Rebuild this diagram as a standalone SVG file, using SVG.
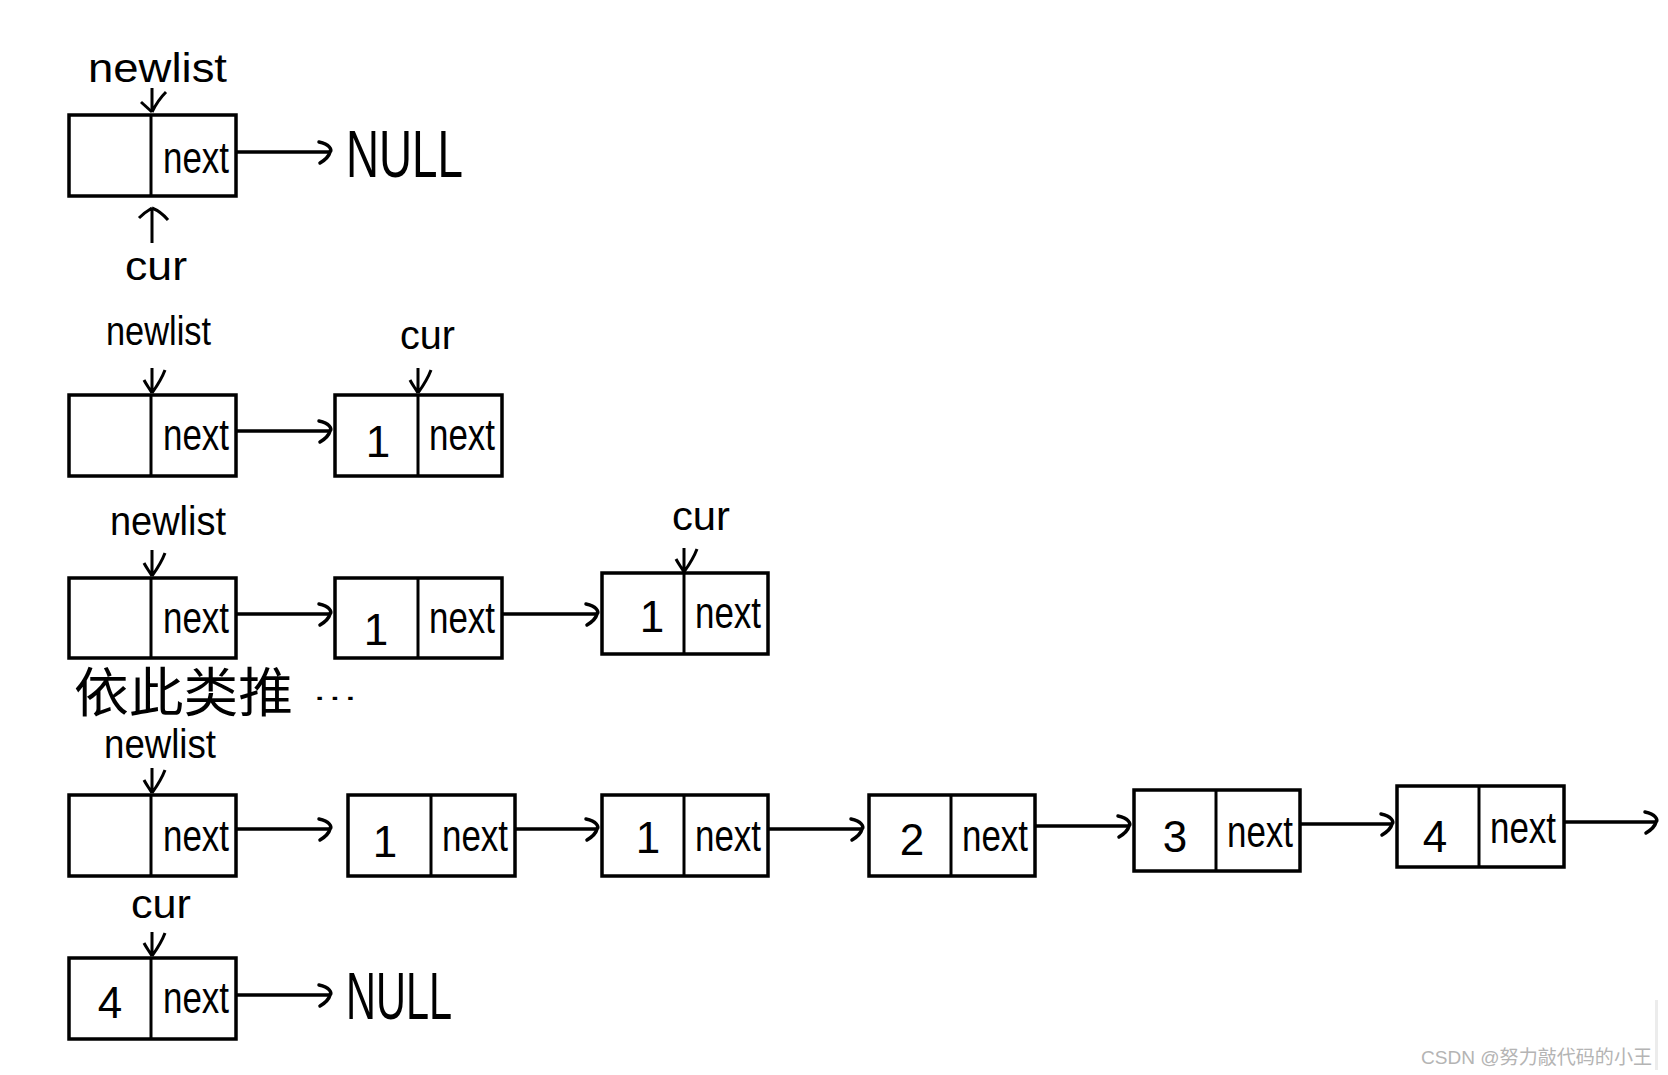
<svg xmlns="http://www.w3.org/2000/svg" width="1668" height="1075" viewBox="0 0 1668 1075">
<style>
.box{fill:#fff;stroke:#000;stroke-width:3.5}
.div{stroke:#000;stroke-width:3}
.hw{font-family:"Liberation Sans","Noto Sans CJK SC",sans-serif;fill:#000}
.nx{font-size:44px}
.lbl{font-size:40px}
.num{font-size:44px}
.null{font-size:66px}
.con{stroke:#000;stroke-width:3.5;fill:none}
.ptr{stroke:#000;stroke-width:3;fill:none}
.wm{font-family:"Liberation Sans","Noto Sans CJK SC",sans-serif;font-size:19px;fill:#b4b4b4}
</style>
<defs>
<marker id="ah" markerUnits="userSpaceOnUse" markerWidth="24" markerHeight="26" refX="14" refY="13" orient="auto" overflow="visible">
<path d="M3,3 C14,5 16,11 14,13 C13,17 9,21 4,24" fill="none" stroke="#000" stroke-width="3.5" stroke-linecap="round"/>
</marker>
</defs>

<!-- Row 1 -->
<g id="r1-head">
<rect class="box" x="69" y="115" width="167" height="81"/>
<line class="div" x1="151" y1="115" x2="151" y2="196"/>
<text class="hw nx" x="163" y="173" textLength="66" lengthAdjust="spacingAndGlyphs">next</text>
</g>
<g id="r1-null"><text class="hw null" x="346" y="177" textLength="117" lengthAdjust="spacingAndGlyphs">NULL</text></g>
<g id="r1-newlist"><text class="hw lbl" x="88" y="82" font-size="52" textLength="139" lengthAdjust="spacingAndGlyphs">newlist</text></g>
<g id="r1-cur"><text class="hw lbl" x="125" y="280" textLength="62" lengthAdjust="spacingAndGlyphs">cur</text></g>

<!-- Row 2 -->
<g id="r2-head">
<rect class="box" x="69" y="395" width="167" height="81"/>
<line class="div" x1="151" y1="395" x2="151" y2="476"/>
<text class="hw nx" x="163" y="450" textLength="66" lengthAdjust="spacingAndGlyphs">next</text>
</g>
<g id="r2-n1">
<rect class="box" x="335" y="395" width="167" height="81"/>
<line class="div" x1="418" y1="395" x2="418" y2="476"/>
<text class="hw num" x="378" y="457" text-anchor="middle">1</text>
<text class="hw nx" x="429" y="450" textLength="66" lengthAdjust="spacingAndGlyphs">next</text>
</g>
<g id="r2-newlist"><text class="hw lbl" x="106" y="345" textLength="105" lengthAdjust="spacingAndGlyphs">newlist</text></g>
<g id="r2-cur"><text class="hw lbl" x="400" y="349" textLength="55" lengthAdjust="spacingAndGlyphs">cur</text></g>

<!-- Row 3 -->
<g id="r3-head">
<rect class="box" x="69" y="578" width="167" height="80"/>
<line class="div" x1="151" y1="578" x2="151" y2="658"/>
<text class="hw nx" x="163" y="633" textLength="66" lengthAdjust="spacingAndGlyphs">next</text>
</g>
<g id="r3-n1">
<rect class="box" x="335" y="578" width="167" height="80"/>
<line class="div" x1="418" y1="578" x2="418" y2="658"/>
<text class="hw num" x="376" y="645" text-anchor="middle">1</text>
<text class="hw nx" x="429" y="633" textLength="66" lengthAdjust="spacingAndGlyphs">next</text>
</g>
<g id="r3-n2">
<rect class="box" x="602" y="573" width="166" height="81"/>
<line class="div" x1="684" y1="573" x2="684" y2="654"/>
<text class="hw num" x="652" y="632" text-anchor="middle">1</text>
<text class="hw nx" x="695" y="628" textLength="66" lengthAdjust="spacingAndGlyphs">next</text>
</g>
<g id="r3-newlist"><text class="hw lbl" x="110" y="535" textLength="116" lengthAdjust="spacingAndGlyphs">newlist</text></g>
<g id="r3-cur"><text class="hw lbl" x="672" y="530" textLength="58" lengthAdjust="spacingAndGlyphs">cur</text></g>

<g id="note">
<text class="hw" x="74" y="712" font-size="53" textLength="219" lengthAdjust="spacingAndGlyphs">依此类推</text>
<text class="hw" x="312" y="706" font-size="30" textLength="46" lengthAdjust="spacingAndGlyphs">···</text>
</g>

<!-- Row 4 -->
<g id="r4-head">
<rect class="box" x="69" y="795" width="167" height="81"/>
<line class="div" x1="151" y1="795" x2="151" y2="876"/>
<text class="hw nx" x="163" y="851" textLength="66" lengthAdjust="spacingAndGlyphs">next</text>
</g>
<g id="r4-n1">
<rect class="box" x="348" y="795" width="167" height="81"/>
<line class="div" x1="431" y1="795" x2="431" y2="876"/>
<text class="hw num" x="385" y="857" text-anchor="middle">1</text>
<text class="hw nx" x="442" y="851" textLength="66" lengthAdjust="spacingAndGlyphs">next</text>
</g>
<g id="r4-n2">
<rect class="box" x="602" y="795" width="166" height="81"/>
<line class="div" x1="684" y1="795" x2="684" y2="876"/>
<text class="hw num" x="648" y="853" text-anchor="middle">1</text>
<text class="hw nx" x="695" y="851" textLength="66" lengthAdjust="spacingAndGlyphs">next</text>
</g>
<g id="r4-n3">
<rect class="box" x="869" y="795" width="166" height="81"/>
<line class="div" x1="951" y1="795" x2="951" y2="876"/>
<text class="hw num" x="912" y="855" text-anchor="middle">2</text>
<text class="hw nx" x="962" y="851" textLength="66" lengthAdjust="spacingAndGlyphs">next</text>
</g>
<g id="r4-n4">
<rect class="box" x="1134" y="790" width="166" height="81"/>
<line class="div" x1="1216" y1="790" x2="1216" y2="871"/>
<text class="hw num" x="1175" y="852" text-anchor="middle">3</text>
<text class="hw nx" x="1227" y="847" textLength="66" lengthAdjust="spacingAndGlyphs">next</text>
</g>
<g id="r4-n5">
<rect class="box" x="1397" y="786" width="167" height="81"/>
<line class="div" x1="1479" y1="786" x2="1479" y2="867"/>
<text class="hw num" x="1435" y="852" text-anchor="middle">4</text>
<text class="hw nx" x="1490" y="843" textLength="66" lengthAdjust="spacingAndGlyphs">next</text>
</g>
<g id="r4-newlist"><text class="hw lbl" x="104" y="758" font-size="34" textLength="112" lengthAdjust="spacingAndGlyphs">newlist</text></g>

<!-- Row 5 -->
<g id="r5-n">
<rect class="box" x="69" y="958" width="167" height="81"/>
<line class="div" x1="151" y1="958" x2="151" y2="1039"/>
<text class="hw num" x="110" y="1018" text-anchor="middle">4</text>
<text class="hw nx" x="163" y="1013" textLength="66" lengthAdjust="spacingAndGlyphs">next</text>
</g>
<g id="r5-null"><text class="hw null" x="346" y="1019" textLength="106" lengthAdjust="spacingAndGlyphs">NULL</text></g>
<g id="r5-cur"><text class="hw lbl" x="131" y="918" textLength="60" lengthAdjust="spacingAndGlyphs">cur</text></g>

<g id="connectors">
<line class="con" x1="236" y1="152" x2="330" y2="152" marker-end="url(#ah)"/>
<line class="con" x1="236" y1="431" x2="330" y2="431" marker-end="url(#ah)"/>
<line class="con" x1="236" y1="614" x2="330" y2="614" marker-end="url(#ah)"/>
<line class="con" x1="502" y1="614" x2="597" y2="614" marker-end="url(#ah)"/>
<line class="con" x1="236" y1="829" x2="330" y2="829" marker-end="url(#ah)"/>
<line class="con" x1="515" y1="829" x2="597" y2="829" marker-end="url(#ah)"/>
<line class="con" x1="768" y1="829" x2="862" y2="829" marker-end="url(#ah)"/>
<line class="con" x1="1035" y1="826" x2="1129" y2="826" marker-end="url(#ah)"/>
<line class="con" x1="1300" y1="824" x2="1392" y2="824" marker-end="url(#ah)"/>
<line class="con" x1="1564" y1="822" x2="1656" y2="822" marker-end="url(#ah)"/>
<line class="con" x1="236" y1="995" x2="330" y2="995" marker-end="url(#ah)"/>
<g class="ptr">
<path d="M152,88 L152,112 M152,112 C156,104 160,98 166,92"/>
<path d="M141,102 L152,112"/>
<path d="M152,243 L152,208 M152,208 C157,210 163,214 168,220 M152,208 C147,211 143,214 139,218"/>
<path d="M152,368 L152,393 M152,393 C157,386 162,378 165,370 M152,393 C149,388 146,384 144,380"/>
<path d="M418,368 L418,393 M418,393 C423,386 428,378 431,370 M418,393 C415,388 412,384 410,380"/>
<path d="M152,550 L152,576 M152,576 C157,569 162,561 165,553 M152,576 C149,571 146,567 144,563"/>
<path d="M684,548 L684,572 M684,572 C689,565 694,557 697,549 M684,572 C681,567 678,563 676,559"/>
<path d="M152,768 L152,793 M152,793 C157,786 162,778 165,770 M152,793 C149,788 146,784 144,780"/>
<path d="M152,932 L152,956 M152,956 C157,949 162,941 165,933 M152,956 C149,951 146,947 144,943"/>
</g>
</g>

<g id="watermark">
<text class="wm" x="1421" y="1064" textLength="231" lengthAdjust="spacingAndGlyphs">CSDN @努力敲代码的小王</text>
<rect x="1655" y="1000" width="3" height="70" fill="#ececec"/>
</g>
</svg>
